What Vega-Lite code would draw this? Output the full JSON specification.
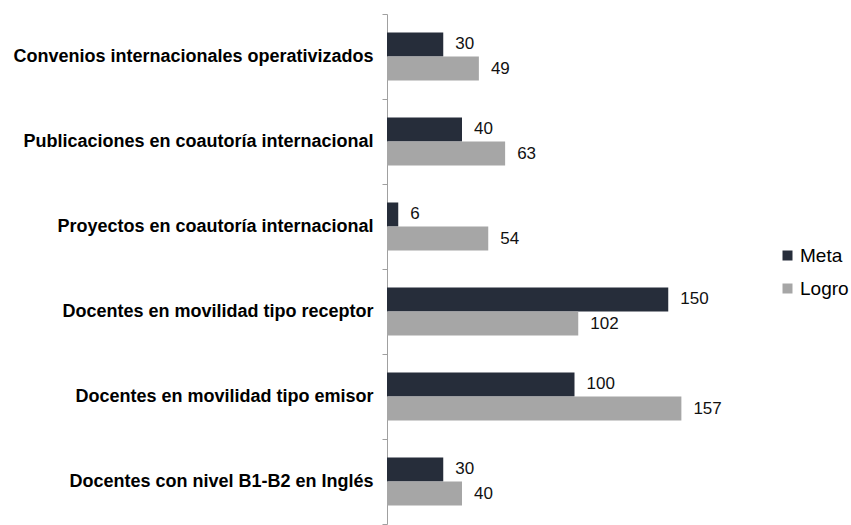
{
  "$schema": "https://vega.github.io/schema/vega-lite/v6.json",
  "autosize": "none",
  "width": 300,
  "height": 510,
  "padding": {"left": 387, "top": 14, "right": 164, "bottom": 1},
  "background": "white",
  "config": {"view": {"stroke": null}, "font": "Liberation Sans"},
  "data": {"values": [
    {"cat": "Convenios internacionales operativizados", "serie": "Meta", "valor": 30},
    {"cat": "Convenios internacionales operativizados", "serie": "Logro", "valor": 49},
    {"cat": "Publicaciones en coautoría internacional", "serie": "Meta", "valor": 40},
    {"cat": "Publicaciones en coautoría internacional", "serie": "Logro", "valor": 63},
    {"cat": "Proyectos en coautoría internacional", "serie": "Meta", "valor": 6},
    {"cat": "Proyectos en coautoría internacional", "serie": "Logro", "valor": 54},
    {"cat": "Docentes en movilidad tipo receptor", "serie": "Meta", "valor": 150},
    {"cat": "Docentes en movilidad tipo receptor", "serie": "Logro", "valor": 102},
    {"cat": "Docentes en movilidad tipo emisor", "serie": "Meta", "valor": 100},
    {"cat": "Docentes en movilidad tipo emisor", "serie": "Logro", "valor": 157},
    {"cat": "Docentes con nivel B1-B2 en Inglés", "serie": "Meta", "valor": 30},
    {"cat": "Docentes con nivel B1-B2 en Inglés", "serie": "Logro", "valor": 40}
  ]},
  "encoding": {
    "y": {"field": "cat", "type": "nominal", "sort": null, "title": null,
      "scale": {"paddingInner": 0, "paddingOuter": 0},
      "axis": {"tickBand": "extent", "domainColor": "#A0A0A0", "tickColor": "#A0A0A0", "tickSize": 5,
        "labelFont": "Liberation Sans", "labelFontSize": 18, "labelFontWeight": "bold", "labelColor": "#000000",
        "labelPadding": 9, "labelLimit": 450}},
    "yOffset": {"field": "serie", "type": "nominal", "sort": ["Meta", "Logro"],
      "scale": {"paddingInner": 0, "paddingOuter": 0.77}},
    "x": {"field": "valor", "type": "quantitative", "scale": {"domain": [0, 160]}, "axis": null}
  },
  "layer": [
    {"mark": {"type": "bar"},
     "encoding": {"color": {"field": "serie", "type": "nominal", "sort": ["Meta", "Logro"], "title": null,
       "scale": {"domain": ["Meta", "Logro"], "range": ["#262D3A", "#A6A6A6"]},
       "legend": {"orient": "none", "legendX": 391, "legendY": 232, "symbolType": "square", "symbolSize": 100,
         "labelFont": "Liberation Sans", "labelFontSize": 19, "labelColor": "#000000", "labelOffset": 3, "rowPadding": 13, "symbolStrokeWidth": 0}}}},
    {"mark": {"type": "text", "align": "left", "dx": 12, "fontSize": 17, "font": "Liberation Sans", "color": "#111111"},
     "encoding": {"text": {"field": "valor", "type": "quantitative"}}}
  ]
}
